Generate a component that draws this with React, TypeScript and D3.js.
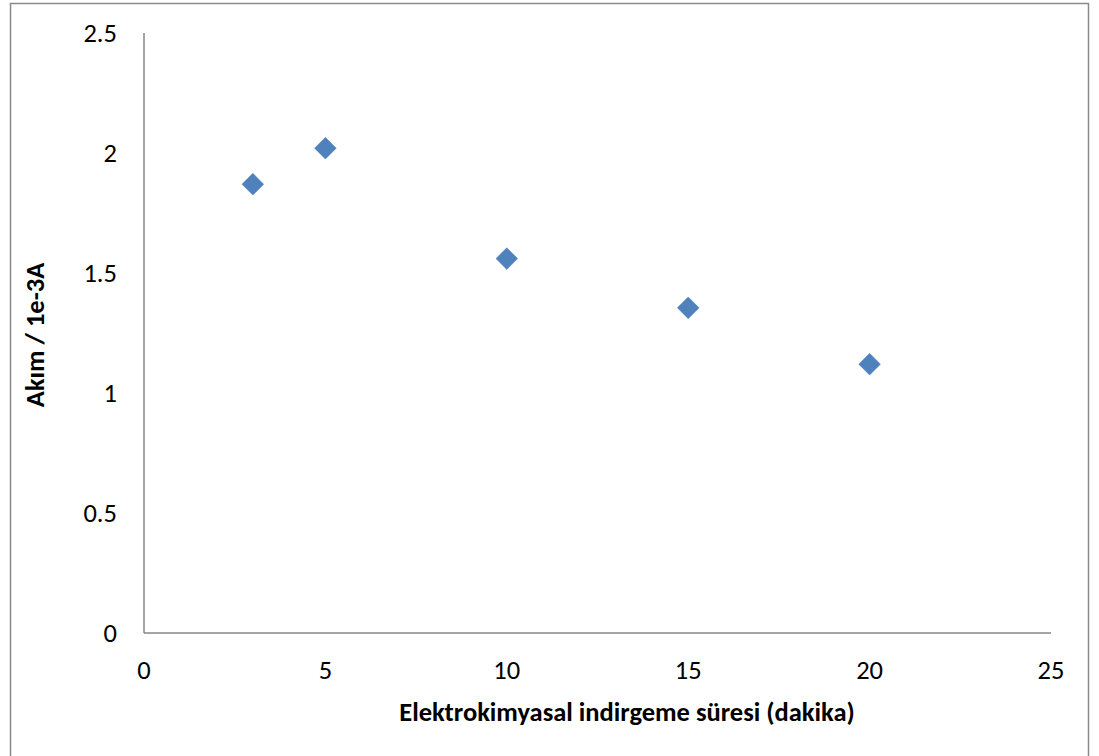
import React from "react";
import * as d3 from "d3";

const xValues = [3, 5, 10, 15, 20];
const yValues = [1.87, 2.02, 1.56, 1.355, 1.12];
const xTicks = [0, 5, 10, 15, 20, 25];
const yTicks = [0, 0.5, 1, 1.5, 2, 2.5];
const xTitle = "Elektrokimyasal indirgeme süresi (dakika)";
const yTitle = "Akım / 1e-3A";

export default function App() {
  const W = 1099, H = 756;
  const x = d3.scaleLinear().domain([0, 25]).range([144, 1051]);
  const y = d3.scaleLinear().domain([0, 2.5]).range([633, 33]);
  const font = "Carlito, Calibri, 'Open Sans', sans-serif";
  const diamond = d3.symbol().type(d3.symbolDiamond2).size(300)();
  const fs = 26.5;
  return (
    <svg width={W} height={H} style={{ position: "absolute", left: 0, top: 0, background: "#fff" }} fontFamily={font}>
      <rect x={10.5} y={3.5} width={1078} height={770} fill="#fff" stroke="#8a8a8a" strokeWidth={1.5} />
      <line x1={x(0)} x2={x(0)} y1={y(2.5)} y2={y(0)} stroke="#868686" strokeWidth={1.5} />
      <line x1={x(0)} x2={x(25)} y1={y(0)} y2={y(0)} stroke="#868686" strokeWidth={1.5} />
      {yTicks.map((t) => (
        <text key={"y" + t} x={117} y={y(t)} dy="0.35em" textAnchor="end" fontSize={fs} fill="#000">
          {String(t)}
        </text>
      ))}
      {xTicks.map((t) => (
        <text key={"x" + t} x={x(t)} y={670} dy="0.35em" textAnchor="middle" fontSize={fs} fill="#000">
          {String(t)}
        </text>
      ))}
      <text x={627} y={712} dy="0.35em" textAnchor="middle" fontSize={fs} fontWeight="bold" fill="#000">
        {xTitle}
      </text>
      <text transform={`translate(35,335) rotate(-90)`} dy="0.35em" textAnchor="middle" fontSize={fs} fontWeight="bold" fill="#000">
        {yTitle}
      </text>
      {xValues.map((v, i) => (
        <path key={i} d={diamond as string} transform={`translate(${x(v)},${y(yValues[i])})`} fill="#4F81BD" stroke="#4A7EBB" strokeWidth={0.5} />
      ))}
    </svg>
  );
}
